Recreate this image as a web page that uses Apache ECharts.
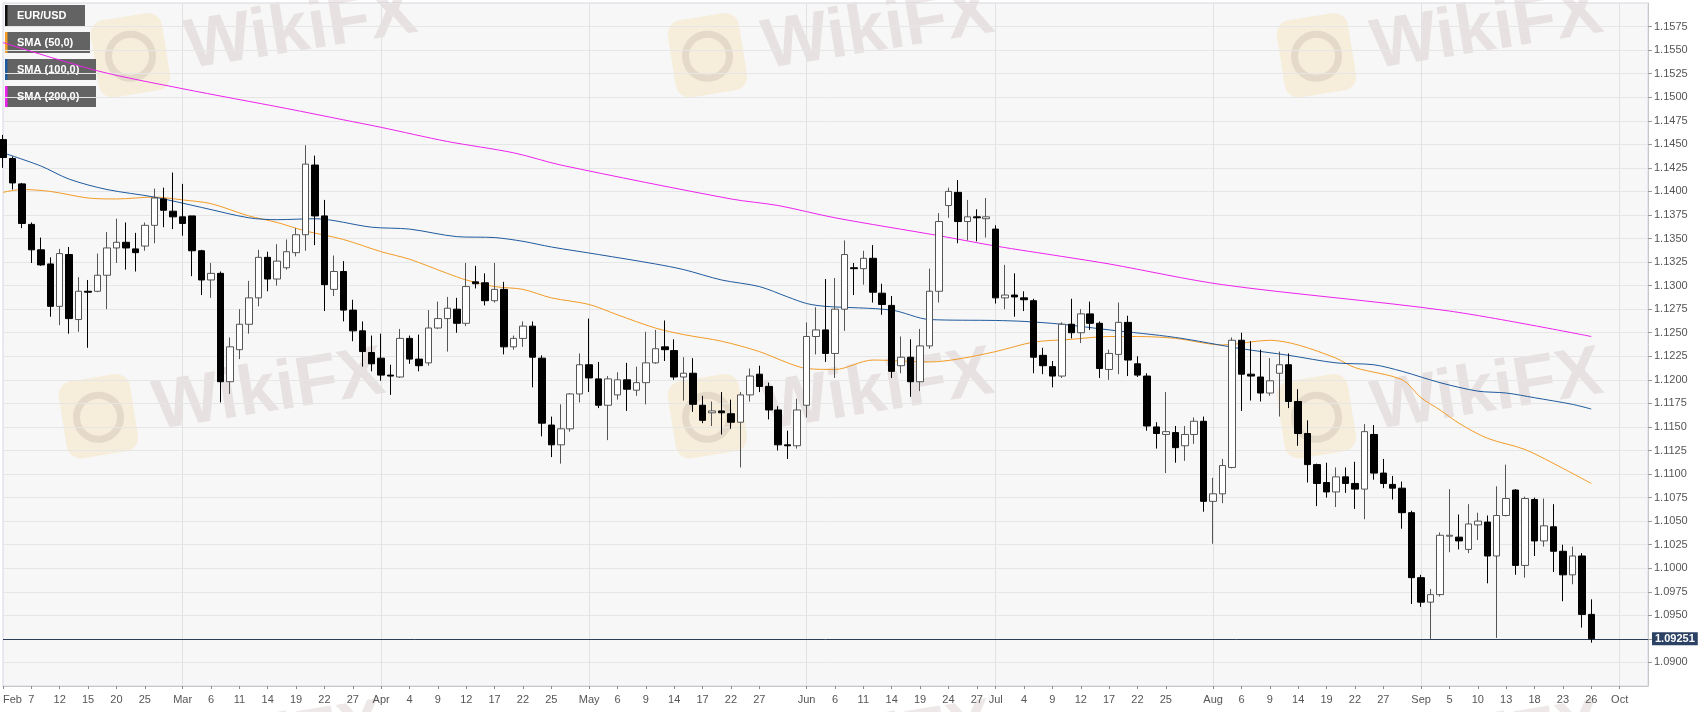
<!DOCTYPE html>
<html>
<head>
<meta charset="utf-8">
<title>EUR/USD</title>
<script src="https://cdn.jsdelivr.net/npm/echarts@6/dist/echarts.min.js"></script>
<style>
	html, body { margin: 0; padding: 0; background: #fff; }
	#eurusd_div { width: 1707px; height: 712px; }
</style>
</head>
<body>
<div id="eurusd_div"></div>
<script>
// trading days shown on the axis (Feb 4 .. Oct 4 2019), MM-DD
var days = [
	'02-04','02-05','02-06','02-07','02-08','02-11','02-12','02-13','02-14','02-15','02-18','02-19','02-20','02-21','02-22','02-25','02-26','02-27','02-28',
	'03-01','03-04','03-05','03-06','03-07','03-08','03-11','03-12','03-13','03-14','03-15','03-18','03-19','03-20','03-21','03-22','03-25','03-26','03-27','03-28','03-29',
	'04-01','04-02','04-03','04-04','04-05','04-08','04-09','04-10','04-11','04-12','04-15','04-16','04-17','04-18','04-19','04-22','04-23','04-24','04-25','04-26','04-29','04-30',
	'05-01','05-02','05-03','05-06','05-07','05-08','05-09','05-10','05-13','05-14','05-15','05-16','05-17','05-20','05-21','05-22','05-23','05-24','05-27','05-28','05-29','05-30','05-31',
	'06-03','06-04','06-05','06-06','06-07','06-10','06-11','06-12','06-13','06-14','06-17','06-18','06-19','06-20','06-21','06-24','06-25','06-26','06-27','06-28',
	'07-01','07-02','07-03','07-04','07-05','07-08','07-09','07-10','07-11','07-12','07-15','07-16','07-17','07-18','07-19','07-22','07-23','07-24','07-25','07-26','07-29','07-30','07-31',
	'08-01','08-02','08-05','08-06','08-07','08-08','08-09','08-12','08-13','08-14','08-15','08-16','08-19','08-20','08-21','08-22','08-23','08-26','08-27','08-28','08-29','08-30',
	'09-02','09-03','09-04','09-05','09-06','09-09','09-10','09-11','09-12','09-13','09-16','09-17','09-18','09-19','09-20','09-23','09-24','09-25','09-26','09-27','09-30',
	'10-01','10-02','10-03','10-04'
];

// daily candles from Feb 4: [open, close, low, high]
var ohlc = [
	[1.1455,1.1436,1.1425,1.1460],[1.1435,1.1409,1.1402,1.1437],[1.1408,1.1366,1.1361,1.1409],[1.1365,1.1338,1.1324,1.1367],
	[1.1338,1.1322,1.1321,1.1351],[1.1323,1.1278,1.1267,1.1330],[1.1278,1.1334,1.1258,1.1339],[1.1333,1.1265,1.1249,1.1341],
	[1.1264,1.1294,1.1251,1.1309],[1.1294,1.1293,1.1234,1.1306],[1.1294,1.1311,1.1293,1.1334],[1.1311,1.1340,1.1275,1.1357],
	[1.1340,1.1346,1.1324,1.1371],[1.1346,1.1340,1.1317,1.1367],[1.1339,1.1335,1.1315,1.1356],[1.1342,1.1364,1.1337,1.1367],
	[1.1364,1.1393,1.1345,1.1403],[1.1392,1.1380,1.1362,1.1404],[1.1379,1.1373,1.1360,1.1420],
	// Mar
	[1.1373,1.1366,1.1353,1.1408],[1.1374,1.1337,1.1310,1.1374],[1.1337,1.1306,1.1290,1.1338],[1.1306,1.1313,1.1287,1.1324],
	[1.1313,1.1198,1.1176,1.1315],[1.1198,1.1235,1.1185,1.1245],[1.1232,1.1259,1.1222,1.1275],[1.1259,1.1287,1.1249,1.1305],
	[1.1287,1.1330,1.1278,1.1338],[1.1330,1.1307,1.1294,1.1336],[1.1307,1.1326,1.1300,1.1344],[1.1319,1.1336,1.1317,1.1349],
	[1.1335,1.1354,1.1331,1.1361],[1.1354,1.1429,1.1337,1.1449],[1.1428,1.1374,1.1343,1.1438],[1.1374,1.1301,1.1273,1.1391],
	[1.1296,1.1315,1.1289,1.1332],[1.1315,1.1274,1.1262,1.1326],[1.1274,1.1252,1.1241,1.1285],[1.1252,1.1230,1.1214,1.1262],
	[1.1229,1.1217,1.1209,1.1247],
	// Apr
	[1.1223,1.1205,1.1199,1.1249],[1.1205,1.1204,1.1184,1.1216],[1.1203,1.1244,1.1202,1.1254],[1.1244,1.1222,1.1217,1.1247],
	[1.1222,1.1215,1.1209,1.1248],[1.1218,1.1255,1.1215,1.1274],[1.1255,1.1265,1.1254,1.1283],[1.1265,1.1276,1.1230,1.1288],
	[1.1275,1.1260,1.1250,1.1287],[1.1260,1.1299,1.1257,1.1324],[1.1304,1.1302,1.1297,1.1321],[1.1303,1.1284,1.1279,1.1313],
	[1.1284,1.1296,1.1282,1.1324],[1.1296,1.1235,1.1227,1.1304],[1.1235,1.1244,1.1232,1.1247],[1.1244,1.1257,1.1235,1.1262],
	[1.1257,1.1224,1.1192,1.1262],[1.1223,1.1154,1.1140,1.1226],[1.1152,1.1131,1.1118,1.1161],[1.1131,1.1148,1.1111,1.1174],
	[1.1148,1.1185,1.1145,1.1186],[1.1185,1.1216,1.1176,1.1228],
	// May
	[1.1216,1.1202,1.1187,1.1265],[1.1201,1.1173,1.1170,1.1219],[1.1173,1.1201,1.1136,1.1204],[1.1184,1.1200,1.1179,1.1208],
	[1.1200,1.1190,1.1167,1.1218],[1.1189,1.1197,1.1183,1.1214],[1.1197,1.1218,1.1174,1.1251],[1.1218,1.1233,1.1217,1.1253],
	[1.1235,1.1232,1.1220,1.1263],[1.1231,1.1203,1.1200,1.1243],[1.1203,1.1207,1.1178,1.1224],[1.1207,1.1174,1.1166,1.1223],
	[1.1173,1.1157,1.1154,1.1183],[1.1165,1.1167,1.1151,1.1177],[1.1167,1.1165,1.1142,1.1187],[1.1164,1.1155,1.1148,1.1179],
	[1.1155,1.1184,1.1107,1.1187],[1.1184,1.1204,1.1177,1.1212],[1.1206,1.1193,1.1187,1.1215],[1.1193,1.1168,1.1158,1.1197],
	[1.1168,1.1131,1.1125,1.1172],[1.1131,1.1130,1.1116,1.1146],[1.1130,1.1168,1.1127,1.1180],
	// Jun
	[1.1173,1.1246,1.1160,1.1261],[1.1246,1.1253,1.1227,1.1277],[1.1253,1.1228,1.1219,1.1307],[1.1228,1.1275,1.1202,1.1308],
	[1.1275,1.1333,1.1252,1.1348],[1.1319,1.1318,1.1290,1.1324],[1.1318,1.1329,1.1301,1.1337],[1.1329,1.1293,1.1282,1.1343],
	[1.1292,1.1280,1.1269,1.1302],[1.1279,1.1209,1.1202,1.1289],[1.1215,1.1224,1.1207,1.1246],[1.1224,1.1198,1.1182,1.1243],
	[1.1198,1.1236,1.1188,1.1254],[1.1236,1.1294,1.1233,1.1318],[1.1294,1.1368,1.1282,1.1377],[1.1385,1.1400,1.1372,1.1404],
	[1.1399,1.1368,1.1345,1.1412],[1.1368,1.1373,1.1348,1.1391],[1.1373,1.1372,1.1347,1.1381],[1.1371,1.1373,1.1351,1.1393],
	// Jul
	[1.1360,1.1287,1.1281,1.1364],[1.1287,1.1290,1.1275,1.1322],[1.1290,1.1288,1.1267,1.1313],[1.1287,1.1285,1.1273,1.1294],
	[1.1284,1.1224,1.1207,1.1286],[1.1226,1.1215,1.1206,1.1234],[1.1214,1.1204,1.1192,1.1220],[1.1204,1.1259,1.1202,1.1261],
	[1.1259,1.1250,1.1244,1.1286],[1.1250,1.1270,1.1239,1.1275],[1.1270,1.1260,1.1253,1.1283],[1.1260,1.1212,1.1202,1.1262],
	[1.1211,1.1228,1.1200,1.1232],[1.1227,1.1261,1.1206,1.1282],[1.1261,1.1221,1.1204,1.1268],[1.1217,1.1205,1.1203,1.1225],
	[1.1204,1.1151,1.1146,1.1207],[1.1150,1.1143,1.1127,1.1155],[1.1142,1.1145,1.1101,1.1187],[1.1144,1.1128,1.1112,1.1151],
	[1.1130,1.1142,1.1114,1.1151],[1.1142,1.1156,1.1132,1.1160],[1.1156,1.1071,1.1060,1.1161],
	// Aug
	[1.1071,1.1079,1.1026,1.1096],[1.1079,1.1109,1.1069,1.1116],[1.1107,1.1242,1.1106,1.1245],[1.1242,1.1206,1.1167,1.1250],
	[1.1206,1.1204,1.1178,1.1241],[1.1203,1.1186,1.1177,1.1232],[1.1186,1.1199,1.1183,1.1223],[1.1207,1.1216,1.1161,1.1230],
	[1.1216,1.1177,1.1170,1.1228],[1.1177,1.1143,1.1130,1.1190],[1.1143,1.1110,1.1091,1.1157],[1.1110,1.1090,1.1066,1.1111],
	[1.1091,1.1081,1.1075,1.1112],[1.1081,1.1097,1.1065,1.1107],[1.1097,1.1090,1.1080,1.1107],[1.1090,1.1084,1.1063,1.1113],
	[1.1084,1.1145,1.1052,1.1153],[1.1142,1.1101,1.1094,1.1152],[1.1101,1.1090,1.1085,1.1116],[1.1089,1.1085,1.1073,1.1098],
	[1.1085,1.1059,1.1042,1.1092],[1.1059,1.0990,1.0962,1.1061],
	// Sep
	[1.0990,1.0964,1.0959,1.0993],[1.0964,1.0972,1.0925,1.0978],[1.0972,1.1035,1.0970,1.1038],[1.1034,1.1035,1.1017,1.1084],
	[1.1033,1.1029,1.1020,1.1057],[1.1020,1.1047,1.1016,1.1068],[1.1046,1.1050,1.1030,1.1059],[1.1049,1.1013,1.0984,1.1056],
	[1.1013,1.1056,1.0926,1.1087],[1.1056,1.1074,1.1055,1.1110],[1.1083,1.1003,1.0993,1.1084],[1.1003,1.1074,1.0990,1.1076],
	[1.1073,1.1029,1.1013,1.1075],[1.1029,1.1045,1.1023,1.1074],[1.1044,1.1018,1.0996,1.1068],[1.1018,1.0993,1.0965,1.1025],
	[1.0993,1.1013,1.0983,1.1023],[1.1013,1.0951,1.0937,1.1016],[1.0951,1.09251,1.0921,1.0967]
];

var lastPrice = 1.09251;

// moving averages at selected days
var sma50 = [
	['02-04',1.1399],['02-06',1.1402],['02-11',1.1400],['02-15',1.1393],['02-20',1.1392],['02-26',1.1394],['03-01',1.1391],
	['03-06',1.1387],['03-12',1.1374],['03-15',1.1367],['03-20',1.1358],['03-26',1.1349],['04-01',1.1336],['04-04',1.1328],
	['04-10',1.1313],['04-12',1.1306],['04-17',1.1299],['04-22',1.1296],['04-25',1.1287],['05-01',1.1280],['05-06',1.1269],
	['05-10',1.1255],['05-15',1.1248],['05-21',1.1241],['05-27',1.1230],['05-30',1.1218],['06-03',1.1212],['06-06',1.1211],
	['06-12',1.1221],['06-20',1.1219],['06-25',1.1222],['07-01',1.1230],['07-05',1.1240],['07-11',1.1243],['07-17',1.1246],
	['07-22',1.1246],['07-26',1.1244],['08-02',1.1237],['08-09',1.1242],['08-14',1.1237],['08-20',1.1223],['08-22',1.1213],
	['08-29',1.1200],['09-02',1.1181],['09-04',1.1168],['09-06',1.1154],['09-11',1.1138],['09-17',1.1126],['09-23',1.1106],
	['09-26',1.1090]
];
var sma100 = [
	['02-04',1.1441],['02-08',1.1427],['02-13',1.1413],['02-19',1.1402],['02-26',1.1394],['03-05',1.1383],['03-12',1.1372],
	['03-15',1.1370],['03-21',1.1371],['03-29',1.1362],['04-04',1.1360],['04-11',1.1352],['04-17',1.1351],['04-22',1.1347],
	['04-25',1.1341],['05-02',1.1333],['05-10',1.1323],['05-15',1.1317],['05-21',1.1306],['05-27',1.1299],['05-30',1.1288],
	['06-03',1.1281],['06-05',1.1278],['06-14',1.1274],['06-20',1.1264],['07-01',1.1263],['07-04',1.1262],['07-10',1.1259],
	['07-17',1.1253],['07-26',1.1245],['08-06',1.1233],['08-13',1.1226],['08-20',1.1218],['08-26',1.1216],['08-29',1.1209],
	['09-04',1.1197],['09-10',1.1188],['09-13',1.1186],['09-18',1.1181],['09-24',1.1174],['09-26',1.1169]
];
var sma200 = [
	['02-04',1.1558],['02-18',1.1528],['03-01',1.1509],['03-18',1.1488],['03-26',1.1476],['04-01',1.1468],['04-10',1.1453],
	['04-19',1.1441],['04-26',1.1428],['05-22',1.1392],['05-29',1.1385],['06-06',1.1372],['06-21',1.1353],['07-01',1.1342],
	['07-10',1.1331],['07-17',1.1323],['08-02',1.1301],['09-05',1.1273],['09-26',1.1246]
];

// axis labels
var tickDays = [
	'02-04','02-07','02-12','02-15','02-20','02-25','03-01','03-06','03-11','03-14','03-19','03-22','03-27',
	'04-01','04-04','04-09','04-12','04-17','04-22','04-25','05-01','05-06','05-09','05-14','05-17','05-22','05-27',
	'06-03','06-06','06-11','06-14','06-19','06-24','06-27','07-01','07-04','07-09','07-12','07-17','07-22','07-25',
	'08-01','08-06','08-09','08-14','08-19','08-22','08-27','09-02','09-05','09-10','09-13','09-18','09-23','09-26','10-01'
];
var monthStarts = ['02-04','03-01','04-01','05-01','06-03','07-01','08-01','09-02','10-01'];
var monthNames = ['Feb','Mar','Apr','May','Jun','Jul','Aug','Sep','Oct'];

var legendItems = ['EUR/USD','SMA (50,0)','SMA (100,0)','SMA (200,0)'];
var legendColors = ['#111111','#f39c26','#1f5a9e','#ee22ee'];

var FONT = "'Liberation Sans', Arial, sans-serif";

var EurUsdChart = {

	init : function() {
		EurUsdChart.chart = window.echarts.init(document.getElementById('eurusd_div'));
		EurUsdChart.renderChart();
	},

	legendGraphics : function() {
		var widths = [80, 85, 91, 91];
		var out = [];
		for (var i = 0; i < legendItems.length; i++) {
			out.push({
				type : 'group',
				left : 5,
				top : 5 + i * 27,
				z : 200,
				children : [
					{ type : 'rect', shape : { x : 0, y : 0, width : widths[i], height : 21 },
					  style : { fill : 'rgba(82,82,82,0.9)' } },
					{ type : 'rect', shape : { x : 0, y : 0, width : 2.5, height : 21 },
					  style : { fill : legendColors[i] } },
					{ type : 'text', x : 12, y : 11,
					  style : { text : legendItems[i], fill : '#ffffff', font : 'bold 11px ' + FONT,
					            textVerticalAlign : 'middle' } }
				]
			});
		}
		return out;
	},

	watermarks : function() {
		// faint "WikiFX" stamp, three columns, two and a half rows
		var cols = [95, 672, 1281], rows = [22, 383, 736];
		var out = [];
		for (var r = 0; r < rows.length; r++) {
			for (var c = 0; c < cols.length; c++) {
				out.push({
					type : 'group',
					x : (r === 0 ? cols[c] : [63, 672, 1281][c]), y : rows[r] + 40,
					rotation : 0.16,
					z : 150,
					silent : true,
					children : [
						{ type : 'rect', shape : { x : 0, y : -40, width : 72, height : 78, r : 14 },
						  style : { fill : 'rgba(245,205,120,0.22)' } },
						{ type : 'circle', shape : { cx : 36, cy : 0, r : 22 },
						  style : { fill : 'none', stroke : 'rgba(180,160,150,0.25)', lineWidth : 7 } },
						{ type : 'text', x : 92, y : 2,
						  style : { text : 'WikiFX', fill : 'rgba(170,140,140,0.20)', font : 'bold 70px ' + FONT,
						            textVerticalAlign : 'middle' } }
					]
				});
			}
		}
		return out;
	},

	renderChart : function() {
		var isTick = function(index, value) {
			return tickDays.indexOf(value) >= 0;
		};
		var isMonth = function(index, value) {
			return index > 0 && monthStarts.indexOf(value) >= 0;
		};

		var option = {
			animation : false,
			backgroundColor : '#ffffff',
			textStyle : { fontFamily : FONT },
			grid : {
				left : 0,
				right : 59,
				top : 3,
				bottom : 26,
				show : true,
				backgroundColor : '#f7f7f7',
				borderColor : '#d6d6e6',
				borderWidth : 1
			},
			xAxis : [ {
				type : 'category',
				data : days,
				boundaryGap : false,
				axisLine : { onZero : false, lineStyle : { color : '#c8c8c8' } },
				axisTick : { show : true, interval : isTick, length : 3, lineStyle : { color : '#8a8a8a' } },
				axisLabel : {
					interval : isTick,
					margin : 8,
					color : '#555555',
					fontSize : 11,
					alignMinLabel : 'left',
					formatter : function(value) {
						var m = monthStarts.indexOf(value);
						if (m >= 0) {
							return monthNames[m];
						}
						return String(parseInt(value.split('-')[1], 10));
					}
				},
				splitLine : { show : true, interval : isMonth, lineStyle : { color : '#e2e2e2' } }
			} ],
			yAxis : [ {
				type : 'value',
				position : 'right',
				min : 1.0875,
				max : 1.16,
				interval : 0.0025,
				axisLine : { show : true, lineStyle : { color : '#c8c8c8' } },
				axisTick : { show : true, length : 4, lineStyle : { color : '#9a9a9a' } },
				axisLabel : {
					margin : 6,
					color : '#555555',
					fontSize : 11,
					showMinLabel : false,
					showMaxLabel : false,
					formatter : function(v) { return v.toFixed(4); }
				},
				splitLine : { show : true, lineStyle : { color : '#e6e6e6' } }
			} ],
			series : [ {
				name : 'EUR/USD',
				type : 'candlestick',
				data : ohlc,
				barWidth : 7,
				z : 5,
				itemStyle : {
					color : '#ffffff',
					color0 : '#000000',
					borderColor : '#555555',
					borderColor0 : '#000000',
					borderWidth : 1
				}
			}, {
				name : 'SMA (50,0)',
				type : 'line',
				data : sma50,
				smooth : 0.3,
				symbol : 'none',
				z : 3,
				lineStyle : { color : '#f39c26', width : 1 },
				// current price line
				markLine : {
					silent : true,
					symbol : ['none', 'none'],
					precision : 5,
					animation : false,
					lineStyle : { color : '#2c3e5a', width : 1, type : 'solid' },
					label : {
						position : 'end',
						distance : 4,
						formatter : function() { return lastPrice.toFixed(5); },
						color : '#ffffff',
						fontWeight : 'bold',
						fontSize : 11,
						backgroundColor : '#2c4264',
						padding : [1, 3, 1, 3]
					},
					data : [ { yAxis : lastPrice } ]
				}
			}, {
				name : 'SMA (100,0)',
				type : 'line',
				data : sma100,
				smooth : 0.3,
				symbol : 'none',
				z : 3,
				lineStyle : { color : '#1f5a9e', width : 1 }
			}, {
				name : 'SMA (200,0)',
				type : 'line',
				data : sma200,
				smooth : 0.3,
				symbol : 'none',
				z : 3,
				lineStyle : { color : '#ee22ee', width : 1 }
			} ],
			graphic : EurUsdChart.watermarks().concat(EurUsdChart.legendGraphics())
		};
		EurUsdChart.chart.clear();
		EurUsdChart.chart.setOption(option);
	}
};
EurUsdChart.init();
</script>
</body>
</html>
